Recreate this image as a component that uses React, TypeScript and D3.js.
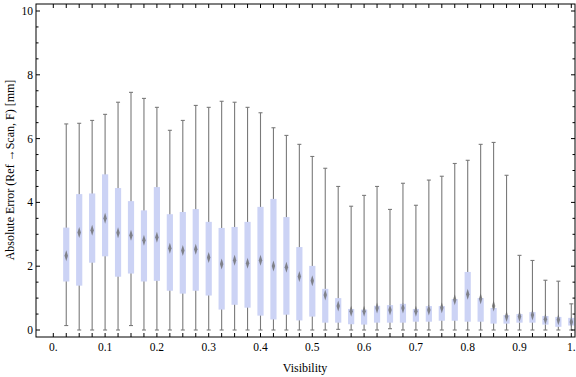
import React from "react";
import * as d3 from "d3";

const visibility = [0.025,0.05,0.075,0.1,0.125,0.15,0.175,0.2,0.225,0.25,0.275,0.3,0.325,0.35,0.375,0.4,0.425,0.45,0.475,0.5,0.525,0.55,0.575,0.6,0.625,0.65,0.675,0.7,0.725,0.75,0.775,0.8,0.825,0.85,0.875,0.9,0.925,0.95,0.975,1.0];
const whiskerMin = [0.14,0,0,0,0,0.14,0,0,0,0,0,0,0,0,0,0,0,0,0,0,0,0.02,0,0,0,0.04,0,0,0,0,0,0,0,0,0,0,0,0,0,0];
const q1 = [1.52,1.39,2.11,2.31,1.67,1.77,1.52,1.54,1.23,1.14,1.23,1.08,0.64,0.79,0.70,0.45,0.33,0.48,0.30,0.42,0.23,0.23,0.18,0.17,0.23,0.23,0.23,0.26,0.26,0.29,0.29,0.26,0.26,0.20,0.20,0.23,0.23,0.17,0.10,0.14];
const median = [2.33,3.06,3.13,3.50,3.05,2.97,2.81,2.91,2.56,2.49,2.53,2.27,2.07,2.19,2.09,2.19,2.01,1.97,1.68,1.54,1.10,0.75,0.59,0.59,0.69,0.63,0.69,0.59,0.63,0.70,0.95,1.12,0.98,0.75,0.42,0.42,0.47,0.34,0.32,0.25];
const q3 = [3.21,4.26,4.28,4.88,4.45,4.04,3.75,4.48,3.63,3.70,3.79,3.39,3.20,3.23,3.39,3.86,4.11,3.54,2.60,2.01,1.29,1.00,0.66,0.64,0.76,0.78,0.82,0.66,0.75,0.75,0.97,1.82,1.00,0.69,0.47,0.50,0.56,0.44,0.41,0.38];
const whiskerMax = [6.46,6.48,6.57,6.76,7.14,7.45,7.26,6.98,6.26,6.57,7.04,6.98,7.17,7.14,6.98,6.81,6.34,6.10,5.82,5.44,5.07,4.50,3.88,4.22,4.50,3.78,4.60,3.91,4.70,4.82,5.22,5.32,5.82,5.88,4.85,2.34,2.18,1.56,1.53,0.82];

const xTickLabels = ["0.", "0.1", "0.2", "0.3", "0.4", "0.5", "0.6", "0.7", "0.8", "0.9", "1."];
const xTickValues = [0, 0.1, 0.2, 0.3, 0.4, 0.5, 0.6, 0.7, 0.8, 0.9, 1.0];
const yTickValues = [0, 2, 4, 6, 8, 10];
const yTickLabels = ["0", "2", "4", "6", "8", "10"];

const W = 576, H = 377;
const frameL = 36, frameR = 575, frameT = 4, frameB = 337;

export default function App() {
  const x = d3.scaleLinear().domain([0, 1]).range([53.3, 571.3]);
  const y = d3.scaleLinear().domain([0, 10]).range([330, 11]);
  const font = "'Liberation Serif', 'Times New Roman', serif";
  const minorX = d3.range(0, 41).map((i) => i * 0.025);
  const minorY = d3.range(0, 21).map((i) => i * 0.5);
  const boxW = 6.2;
  const capW = 4;
  const mdW = 1.7, mdH = 5.5;

  return (
    <svg width={W} height={H} style={{ position: "absolute", left: 0, top: 0, background: "#fff" }} fontFamily={font}>
      <defs>
        <filter id="blur" x="-100%" y="-100%" width="300%" height="300%">
          <feGaussianBlur stdDeviation="0.55" />
        </filter>
      </defs>
      {visibility.map((v, i) => {
        const cx = x(v);
        return (
          <g key={i}>
            <line x1={cx} x2={cx} y1={y(whiskerMin[i])} y2={y(whiskerMax[i])} stroke="#7a7a7a" strokeWidth={1.1} />
            <line x1={cx - capW / 2} x2={cx + capW / 2} y1={y(whiskerMax[i])} y2={y(whiskerMax[i])} stroke="#7a7a7a" strokeWidth={1.1} />
            <line x1={cx - capW / 2} x2={cx + capW / 2} y1={y(whiskerMin[i])} y2={y(whiskerMin[i])} stroke="#7a7a7a" strokeWidth={1.1} />
            <rect x={cx - boxW / 2} width={boxW} y={y(q3[i])} height={Math.max(0.5, y(q1[i]) - y(q3[i]))} fill="#ccd3f5" />
            <path
              d={`M${cx},${y(median[i]) - mdH} L${cx + mdW},${y(median[i])} L${cx},${y(median[i]) + mdH} L${cx - mdW},${y(median[i])} Z`}
              fill="#666"
              opacity={0.75}
              filter="url(#blur)"
            />
          </g>
        );
      })}
      <rect x={frameL} y={frameT} width={frameR - frameL} height={frameB - frameT} fill="none" stroke="#000" strokeWidth={1} />
      {minorX.map((v, i) => (
        <g key={"xt" + i}>
          <line x1={x(v)} x2={x(v)} y1={frameB} y2={frameB - 4} stroke="#000" />
          <line x1={x(v)} x2={x(v)} y1={frameT} y2={frameT + 4} stroke="#000" />
        </g>
      ))}
      {minorY.map((v, i) => {
        const isMajor = Math.abs(v % 2) < 1e-9;
        const len = isMajor ? 4 : 2.5;
        return (
          <g key={"yt" + i}>
            <line x1={frameL} x2={frameL + len} y1={y(v)} y2={y(v)} stroke="#000" />
            <line x1={frameR} x2={frameR - len} y1={y(v)} y2={y(v)} stroke="#000" />
          </g>
        );
      })}
      {xTickValues.map((v, i) => (
        <text key={"xl" + i} x={x(v)} y={351} textAnchor="middle" fontSize={11.5} fill="#000">{xTickLabels[i]}</text>
      ))}
      {yTickValues.map((v, i) => (
        <text key={"yl" + i} x={33} y={y(v) + 4} textAnchor="end" fontSize={11.5} fill="#000">{yTickLabels[i]}</text>
      ))}
      <text x={305} y={372} textAnchor="middle" fontSize={12} fill="#000">Visibility</text>
      <text transform={`translate(14,170) rotate(-90)`} textAnchor="middle" fontSize={12} fill="#000">Absolute Error (Ref →Scan, F) [mm]</text>
    </svg>
  );
}
